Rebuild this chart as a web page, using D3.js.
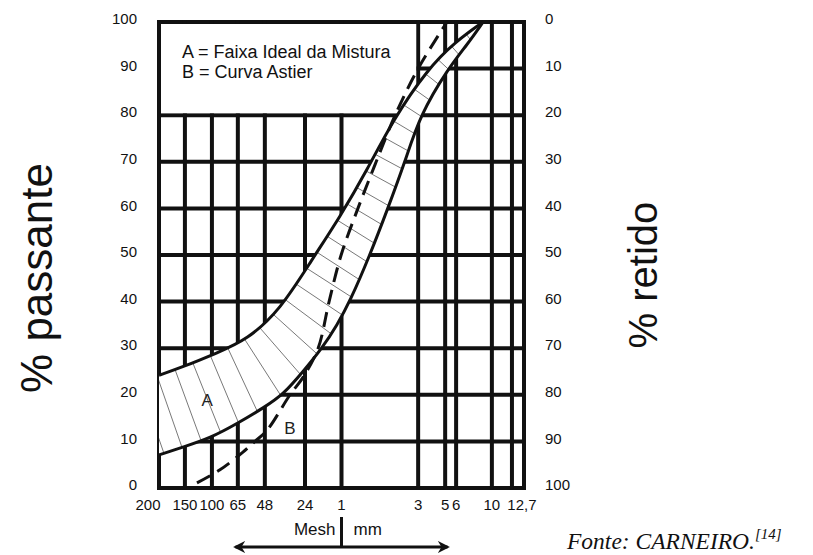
<!DOCTYPE html>
<html>
<head>
<meta charset="utf-8">
<script src="https://cdn.jsdelivr.net/npm/d3@7"></script>
<style>
  body { margin: 0; background: #fff; }
  svg { display: block; font-family: "Liberation Sans", Arial, sans-serif; }
</style>
</head>
<body>
<svg width="813" height="555"></svg>
<script>
// sieve axis: labels and where each line sits along the (non uniform) axis, 0..100
var sieveLabels = ["200", "150", "100", "65", "48", "24", "1", "3", "5", "6", "10", "12,7"];
var sievePos = [0, 7.1, 14.5, 21.6, 29.0, 40.0, 50.0, 71.0, 78.4, 81.4, 91.2, 96.7];
var passTicks = [0, 10, 20, 30, 40, 50, 60, 70, 80, 90, 100];

// band A (faixa ideal) - upper and lower limits, [axis pos, % passante]
var bandUpper = [[0, 24.2], [6.6, 26.0], [15.9, 29.0], [24.1, 31.8], [33.2, 38.2], [41.9, 49.0],
  [49.6, 58.2], [57.0, 68.2], [64.1, 79.0], [73.7, 90.0], [81.1, 95.7], [88.8, 100]];
var bandLower = [[0, 7.1], [6.6, 8.8], [14.0, 10.7], [21.6, 13.9], [29.0, 17.4], [33.97, 20.0],
  [39.5, 25.0], [44.7, 30.0], [48.8, 35.0], [52.3, 40.0], [57.8, 50.0], [62.7, 60.0], [67.4, 70.0],
  [71.5, 80.0], [79.2, 90.0], [84.4, 95.1], [88.8, 100]];
// curve B (Astier)
var astier = [[10.4, 1.1], [16.7, 3.9], [23.0, 7.7], [26.3, 10.0], [29.6, 12.4], [35.9, 20.0],
  [39.5, 23.8], [43.6, 30.0], [46.6, 40.0], [49.9, 50.0], [54.5, 60.0], [59.5, 70.0],
  [64.7, 80.0], [71.0, 90.0], [78.9, 100]];

var svg = d3.select("svg"),
    margin = { top: 22, left: 159, right: 289, bottom: 67 },
    width = +svg.attr("width") - margin.left - margin.right,
    height = +svg.attr("height") - margin.top - margin.bottom;

var x = d3.scaleLinear().domain([0, 100]).range([margin.left, margin.left + width]);
var y = d3.scaleLinear().domain([0, 100]).range([margin.top + height, margin.top]);

var line = d3.line()
    .curve(d3.curveBasis)
    .x(function(d) { return x(d[0]); })
    .y(function(d) { return y(d[1]); });

var dashLine = d3.line()
    .curve(d3.curveCatmullRom.alpha(0.5))
    .x(function(d) { return x(d[0]); })
    .y(function(d) { return y(d[1]); });

var grid = svg.append("g").attr("stroke", "#111").attr("stroke-width", 4);

// horizontal grid lines
grid.selectAll("line.h")
  .data(passTicks)
  .enter().append("line")
    .attr("class", "h")
    .attr("x1", x(0) - 2).attr("x2", x(100) + 2)
    .attr("y1", function(d) { return y(d); })
    .attr("y2", function(d) { return y(d); });

// vertical grid lines (sieves + right frame)
grid.selectAll("line.v")
  .data(sievePos.concat([100]))
  .enter().append("line")
    .attr("class", "v")
    .attr("x1", function(d) { return x(d); })
    .attr("x2", function(d) { return x(d); })
    .attr("y1", y(100) - 2).attr("y2", y(0) + 2);

// legend box: white block over the grid, top left
var boxRight = x(sievePos[sieveLabels.indexOf("3")]);
svg.append("rect")
  .attr("x", x(0) + 2).attr("y", y(100) + 2)
  .attr("width", boxRight - x(0) - 4)
  .attr("height", y(80) - y(100) - 4)
  .attr("fill", "#fff");

svg.append("text").attr("x", 182).attr("y", 58).attr("font-size", 18).attr("fill", "#111")
  .text("A = Faixa Ideal da Mistura");
svg.append("text").attr("x", 182).attr("y", 78).attr("font-size", 18).attr("fill", "#111")
  .text("B = Curva Astier");

// band clip area
var lowerRev = bandLower.slice().reverse();
svg.append("defs").append("clipPath")
  .attr("id", "band")
  .append("path")
  .attr("d", line(bandUpper) + "L" + line(lowerRev).slice(1) + "Z");

var upperPath = svg.append("path")
  .attr("d", line(bandUpper))
  .attr("fill", "none")
  .attr("stroke", "none");

// white fill of band so grid does not show inside
svg.append("rect")
  .attr("clip-path", "url(#band)")
  .attr("x", x(0)).attr("y", y(100))
  .attr("width", width).attr("height", height)
  .attr("fill", "#fff");

// hatch lines, roughly normal to the upper limit
var node = upperPath.node(), L = node.getTotalLength();
var p0 = node.getPointAtLength(0), p1 = node.getPointAtLength(1);
var hatch = [];
for (var s = -40; s < L - 6; s += 19) {
  var p, q;
  if (s < 0) {
    p = { x: p0.x + (p1.x - p0.x) * s, y: p0.y + (p1.y - p0.y) * s };
    q = { x: p.x + (p1.x - p0.x), y: p.y + (p1.y - p0.y) };
  } else {
    p = node.getPointAtLength(s);
    q = node.getPointAtLength(Math.min(s + 1, L));
  }
  var tx = q.x - p.x, ty = q.y - p.y, n = Math.sqrt(tx * tx + ty * ty) || 1;
  var nx = -ty / n, ny = tx / n;
  hatch.push([p.x - nx * 3, p.y - ny * 3, p.x + nx * 140, p.y + ny * 140]);
}
svg.append("g")
  .attr("clip-path", "url(#band)")
  .selectAll("line")
  .data(hatch)
  .enter().append("line")
    .attr("x1", function(d) { return d[0]; })
    .attr("y1", function(d) { return d[1]; })
    .attr("x2", function(d) { return d[2]; })
    .attr("y2", function(d) { return d[3]; })
    .attr("stroke", "#555")
    .attr("stroke-width", 0.8);

// band limits
svg.append("path").attr("d", line(bandUpper))
  .attr("fill", "none").attr("stroke", "#111").attr("stroke-width", 3);
svg.append("path").attr("d", line(bandLower))
  .attr("fill", "none").attr("stroke", "#111").attr("stroke-width", 3);

// Astier curve
svg.append("path").attr("d", dashLine(astier))
  .attr("fill", "none").attr("stroke", "#111").attr("stroke-width", 3)
  .attr("stroke-dasharray", "15,8");

svg.append("text").attr("x", x(13.2)).attr("y", y(17.6)).attr("font-size", 17)
  .attr("text-anchor", "middle").attr("fill", "#222").text("A");
svg.append("text").attr("x", x(35.9)).attr("y", y(11.6)).attr("font-size", 17)
  .attr("text-anchor", "middle").attr("fill", "#222").text("B");

// left axis (% passante)
svg.append("g").selectAll("text")
  .data(passTicks)
  .enter().append("text")
    .attr("x", 137)
    .attr("y", function(d) { return y(d) - 3; })
    .attr("dy", "0.35em")
    .attr("text-anchor", "end")
    .attr("font-size", 15)
    .attr("fill", "#111")
    .text(function(d) { return d; });

// right axis (% retido)
svg.append("g").selectAll("text")
  .data(passTicks)
  .enter().append("text")
    .attr("x", 545)
    .attr("y", function(d) { return y(d) - 3; })
    .attr("dy", "0.35em")
    .attr("font-size", 15)
    .attr("fill", "#111")
    .text(function(d) { return 100 - d; });

// sieve labels
svg.append("g").selectAll("text")
  .data(sieveLabels)
  .enter().append("text")
    .attr("x", function(d, i) { return x(sievePos[i]); })
    .attr("dx", function(d, i) { return i === 0 ? -11 : (i === sieveLabels.length - 1 ? 10 : 0); })
    .attr("y", y(0) + 22)
    .attr("text-anchor", "middle")
    .attr("font-size", 15)
    .attr("fill", "#111")
    .text(function(d) { return d; });

// axis titles
svg.append("text")
  .attr("transform", "translate(52,278) rotate(-90)")
  .attr("text-anchor", "middle")
  .attr("font-size", 44)
  .attr("fill", "#111")
  .text("% passante");
svg.append("text")
  .attr("transform", "translate(657,275) rotate(-90)")
  .attr("text-anchor", "middle")
  .attr("font-size", 40)
  .attr("fill", "#111")
  .text("% retido");

// Mesh | mm arrow
var split = x(sievePos[sieveLabels.indexOf("1")]);
svg.append("defs").append("marker")
  .attr("id", "arr")
  .attr("viewBox", "0 0 10 10")
  .attr("refX", 8).attr("refY", 5)
  .attr("markerWidth", 4).attr("markerHeight", 4)
  .attr("orient", "auto-start-reverse")
  .append("path").attr("d", "M0,0L10,5L0,10L3,5Z").attr("fill", "#111");
svg.append("line")
  .attr("x1", split - 106).attr("x2", split + 106)
  .attr("y1", 547).attr("y2", 547)
  .attr("stroke", "#111").attr("stroke-width", 3)
  .attr("marker-start", "url(#arr)").attr("marker-end", "url(#arr)");
svg.append("line")
  .attr("x1", split).attr("x2", split)
  .attr("y1", 517).attr("y2", 547)
  .attr("stroke", "#111").attr("stroke-width", 3);
svg.append("text").attr("x", split - 6).attr("y", 535).attr("font-size", 17)
  .attr("text-anchor", "end").attr("fill", "#111").text("Mesh");
svg.append("text").attr("x", split + 12).attr("y", 535).attr("font-size", 17)
  .attr("fill", "#111").text("mm");

// source note
var fonte = svg.append("text")
  .attr("x", 567).attr("y", 549)
  .attr("font-family", "'Liberation Serif', 'Times New Roman', serif")
  .attr("font-style", "italic")
  .attr("font-size", 23.5)
  .attr("fill", "#111")
  .text("Fonte: CARNEIRO.");
fonte.append("tspan")
  .attr("dy", -10)
  .attr("font-size", 15)
  .text("[14]");
</script>
</body>
</html>
